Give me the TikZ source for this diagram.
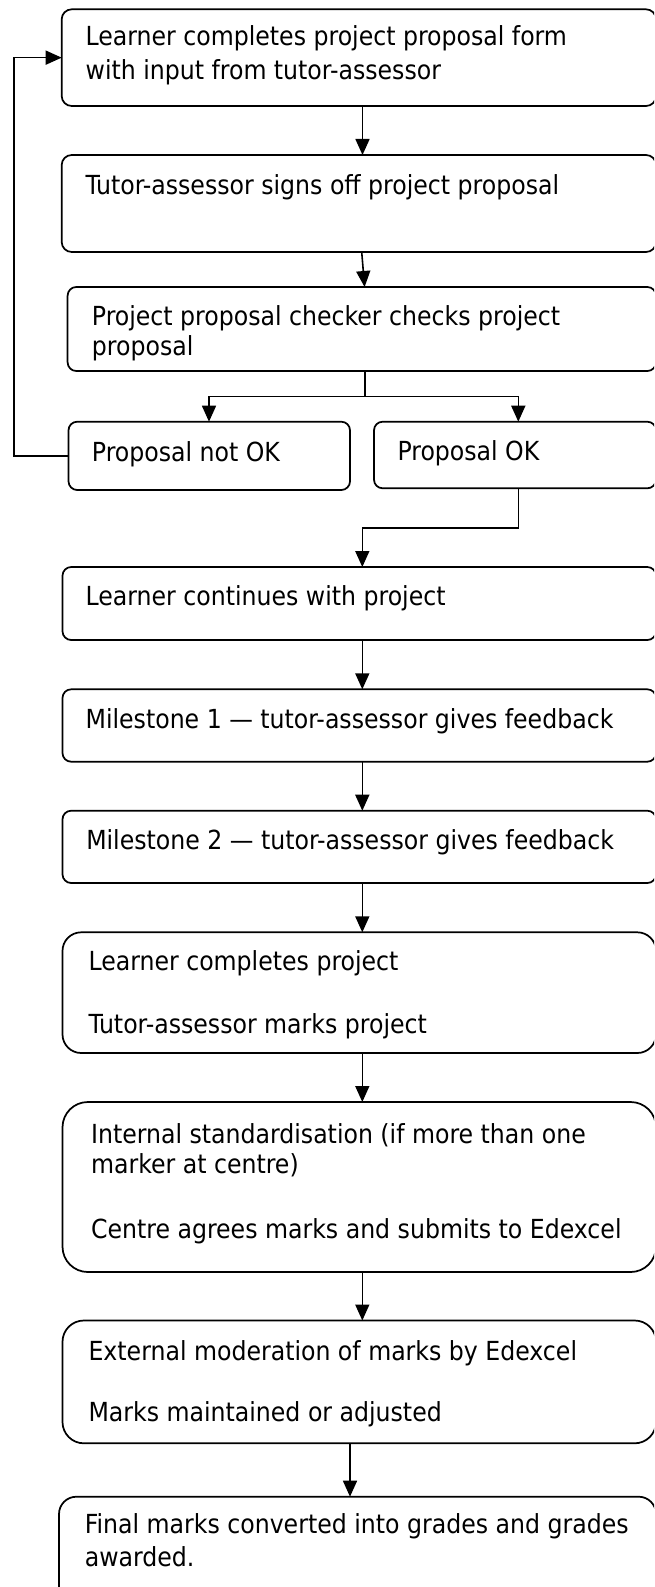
\documentclass[tikz,border=0pt]{standalone}
\usepackage{fontspec}
\setmainfont{DejaVu Sans Condensed}
\usetikzlibrary{arrows.meta}
\tikzset{
  box/.style={draw, line width=1.3pt, inner sep=0pt, outer sep=0pt},
  lbl/.style={anchor=base west, inner sep=0pt, font=\fontsize{19.7pt}{23pt}\selectfont},
  arr/.style={line width=1.2pt, -{Triangle[length=12pt,width=10.5pt]}},
  ln/.style={line width=1.2pt}
}
\newcommand\mkbox[6]{\node[box, rounded corners=#6, minimum width={(#4-#2)*0.75pt}, minimum height={(#5-#3)*0.75pt}] (#1) at ({(#2+#4)/2},{(#3+#5)/2}) {};}
\begin{document}
\begin{tikzpicture}[x=0.75pt,y=-0.75pt]
\useasboundingbox (0,0) rectangle (654,1587);
\fill[white] (0,0) rectangle (654,1587);
\clip (0,0) rectangle (654,1587);
% boxes
\mkbox{b1}{61.7}{9.3}{656}{106}{7.5pt}
\mkbox{b2}{61.7}{155}{656}{252}{7.5pt}
\mkbox{b3}{67.6}{287}{656}{371}{6.5pt}
\mkbox{b4}{68.5}{421.7}{350}{490}{6.5pt}
\mkbox{b5}{374}{421.7}{656}{488.3}{6.5pt}
\mkbox{b6}{62.5}{567}{656}{640}{6.5pt}
\mkbox{b7}{62.5}{689.3}{656}{761.7}{6.5pt}
\mkbox{b8}{62.5}{810.7}{656}{883}{6.5pt}
\mkbox{b9}{62.5}{932.3}{656}{1053}{14pt}
\mkbox{b10}{62.5}{1102}{656}{1272}{19pt}
\mkbox{b11}{62.5}{1320.5}{656}{1443.3}{16pt}
\mkbox{b12}{59}{1496.7}{656}{1610}{13pt}
% texts
\node[lbl] (t1a) at (85.4,46) {Learner completes project proposal form};
\node[lbl] (t1b) at (85.4,80) {with input from tutor-assessor};
\node[lbl] (t2) at (85.4,195) {Tutor-assessor signs off project proposal};
\node[lbl] (t3a) at (91.7,325) {Project proposal checker checks project};
\node[lbl] (t3b) at (91.7,355) {proposal};
\node[lbl] (t4) at (91.7,461.5) {Proposal not OK};
\node[lbl] (t5) at (397.3,460.5) {Proposal OK};
\node[lbl] (t6) at (85.4,605) {Learner continues with project};
\node[lbl] (t7) at (85.4,728.3) {Milestone 1 — tutor-assessor gives feedback};
\node[lbl] (t8) at (86,849.3) {Milestone 2 — tutor-assessor gives feedback};
\node[lbl] (t9a) at (88.3,970) {Learner completes project};
\node[lbl] (t9b) at (88.3,1033.3) {Tutor-assessor marks project};
\node[lbl] (t10a) at (90.8,1143.3) {Internal standardisation (if more than one};
\node[lbl] (t10b) at (90.8,1173.3) {marker at centre)};
\node[lbl] (t10c) at (90.8,1238.3) {Centre agrees marks and submits to Edexcel};
\node[lbl] (t11a) at (88.3,1360) {External moderation of marks by Edexcel};
\node[lbl] (t11b) at (88.3,1421.7) {Marks maintained or adjusted};
\node[lbl] (t12a) at (84.6,1533.3) {Final marks converted into grades and grades};
\node[lbl] (t12b) at (84.6,1566) {awarded.};
% helper coordinates
\coordinate (xa) at (362.5,0);
\coordinate (xb1) at (361.7,0);
\coordinate (xb2) at (364.6,0);
\coordinate (br) at (365,396.5);
\coordinate (xl) at (209,0);
\coordinate (xr) at (518.3,0);
\coordinate (lx) at (14,0);
\coordinate (jn) at (362.3,527.7);
\coordinate (xm) at (362.3,0);
\coordinate (xe) at (350,0);
% connectors
\draw[arr] (b1.south -| xa) -- (b2.north -| xa);
\draw[arr] (b2.south -| xb1) -- (b3.north -| xb2);
\draw[ln] (b3.south -| br) -- (br);
\draw[arr] (br) -| (b4.north -| xl);
\draw[arr] (br) -| (b5.north -| xr);
\draw[arr] (b4.west) -- (lx |- b4.west) |- (b1.west);
\draw[arr] (b5.south -| xr) |- (jn) -- (b6.north -| jn);
\draw[arr] (b6.south -| xm) -- (b7.north -| xm);
\draw[arr] (b7.south -| xm) -- (b8.north -| xm);
\draw[arr] (b8.south -| xm) -- (b9.north -| xm);
\draw[arr] (b9.south -| xm) -- (b10.north -| xm);
\draw[arr] (b10.south -| xm) -- (b11.north -| xm);
\draw[arr] (b11.south -| xe) -- (b12.north -| xe);
\end{tikzpicture}
\end{document}
